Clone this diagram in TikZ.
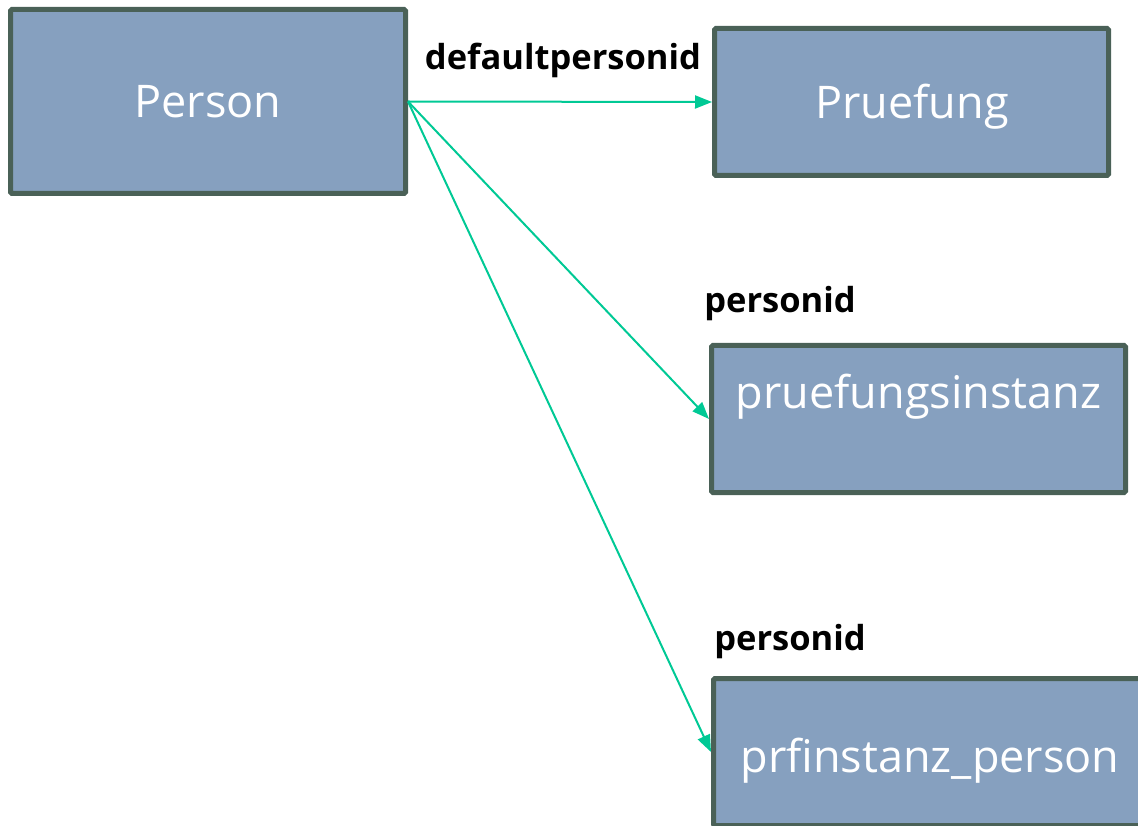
\documentclass[tikz,border=0pt]{standalone}
\usepackage{fontspec}
\setmainfont{Open Sans}
\usetikzlibrary{arrows.meta}
\definecolor{boxfill}{HTML}{86A0BF}
\definecolor{boxline}{HTML}{4A6157}
\definecolor{arrowc}{HTML}{00C995}
\tikzset{
  entity/.style={draw=boxline, fill=boxfill, line width=5pt, rounded corners=1.5pt, inner sep=0pt, anchor=center},
  etext/.style={text=white, font=\fontsize{45}{48}\selectfont, anchor=base, inner sep=0pt},
  ltext/.style={text=black, font=\bfseries\fontsize{34.5}{38}\selectfont, anchor=base, inner sep=0pt},
  link/.style={draw=arrowc, line width=2pt, -{Triangle[length=17pt,width=13pt]}},
}
\begin{document}
\begin{tikzpicture}[x=1pt,y=-1pt]
\useasboundingbox (0,0) rectangle (1138,826);
\begin{scope}
\clip (0,0) rectangle (1138,826);
\node[entity, minimum width=395pt, minimum height=184pt] (person) at (208,101.5) {};
\node[entity, minimum width=394pt, minimum height=147pt] (pruefung) at (911.5,102) {};
\node[entity, minimum width=414pt, minimum height=147pt] (pinst) at (918.5,419) {};
\node[entity, minimum width=434pt, minimum height=147pt] (pperson) at (930.5,752) {};
\end{scope}
\node[etext] (tperson) at (208,118) {Person};
\node[etext] (tpruefung) at (912,119) {Pruefung};
\node[etext] (tpinst) at (918.5,408) {pruefungsinstanz};
\node[etext] (tpperson) at (930,772) {prfinstanz\_person};
\node[ltext] (l1) at (563,70) {defaultpersonid};
\node[ltext] (l2) at (780,313) {personid};
\node[ltext] (l3) at (790,650) {personid};
\coordinate (src) at (person.east);
\draw[link] (src) -- (pruefung.west);
\draw[link] (src) -- (pinst.west);
\draw[link] (src) -- (pperson.west);
\end{tikzpicture}
\end{document}
